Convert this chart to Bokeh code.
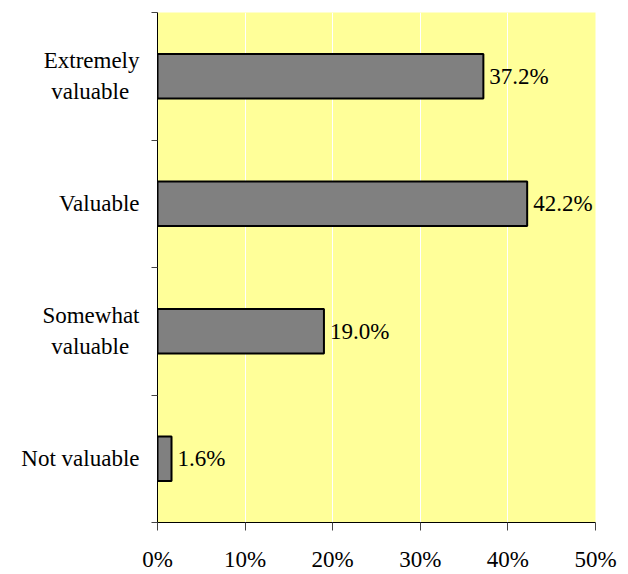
from bokeh.plotting import figure
from bokeh.models import Range1d, FixedTicker, ColumnDataSource
from bokeh.embed import file_html
from bokeh.resources import INLINE
from bokeh.core.properties import value

# bottom to top
categories = ["Not valuable", "Somewhat\nvaluable\u00a0\u2009", "Valuable", "Extremely\nvaluable\u00a0\u2009"]
values = [1.6, 19.0, 42.2, 37.2]
value_labels = ["1.6%", "19.0%", "42.2%", "37.2%"]
x_ticks = [0, 10, 20, 30, 40, 50]
x_tick_labels = ["0%", "10%", "20%", "30%", "40%", "50%"]

FONT = "'Liberation Serif'"
FS = "23px"
ypos = [i + 0.5 for i in range(len(categories))]
src = ColumnDataSource(dict(y=ypos, v=values, lab=value_labels))

p = figure(width=628, height=574, output_backend="svg", toolbar_location=None,
           x_range=Range1d(0, 50), y_range=Range1d(0, 4),
           min_border_left=157, min_border_right=33, min_border_top=12, min_border_bottom=50)
p.background_fill_color = "#FFFF99"
p.border_fill_color = "white"
p.outline_line_color = None

p.hbar(y="y", right="v", left=0, height=0.35, source=src,
       fill_color="#808080", line_color="black", line_width=2)
p.text(x="v", y="y", text="lab", source=src, x_offset=6,
       text_baseline="middle", text_align="left",
       text_font=value(FONT), text_font_size=FS, text_color="black")

xax = p.below[0]
yax = p.left[0]

# x axis
xax.ticker = FixedTicker(ticks=x_ticks, minor_ticks=[])
xax.major_label_overrides = dict(zip(x_ticks, x_tick_labels))
xax.major_label_text_font = FONT
xax.major_label_text_font_size = FS
xax.major_label_text_color = "black"
xax.major_label_standoff = 16
xax.major_tick_out = 8
xax.major_tick_in = 0
xax.major_tick_line_color = "#444444"
xax.axis_line_color = "black"

# y axis: labels at category centres, ticks at category boundaries
yax.ticker = FixedTicker(ticks=ypos, minor_ticks=[0, 1, 2, 3, 4])
yax.major_label_overrides = dict(zip(ypos, categories))
yax.major_label_text_font = FONT
yax.major_label_text_font_size = FS
yax.major_label_text_color = "black"
yax.major_label_text_line_height = 1.25
yax.major_label_standoff = 12
yax.major_tick_out = 0
yax.major_tick_in = 0
yax.minor_tick_out = 6
yax.minor_tick_in = 0
yax.minor_tick_line_color = "#444444"
yax.axis_line_color = "black"

p.xgrid.ticker = FixedTicker(ticks=[10, 20, 30, 40])
p.xgrid.grid_line_color = "white"
p.xgrid.grid_line_width = 1
p.ygrid.grid_line_color = None

open("out.html", "w").write(file_html(p, INLINE))
